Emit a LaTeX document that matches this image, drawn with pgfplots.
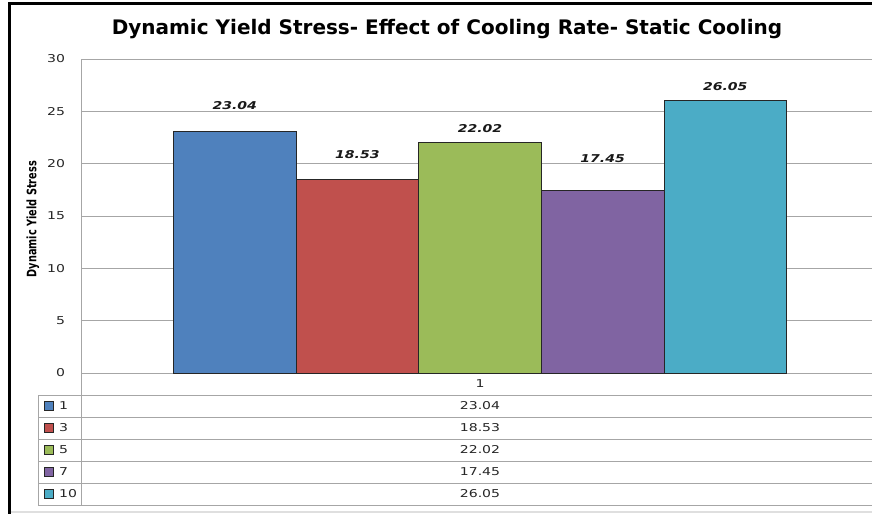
\documentclass[border=0pt]{standalone}
\usepackage{pgfplots}
\pgfplotsset{compat=1.18}
\usepackage{fontspec}
\setmainfont{DejaVu Sans}
\newfontfamily\widefont{DejaVu Sans}[FakeStretch=1.3]
\newfontfamily\narrowfont{DejaVu Sans}[FakeStretch=0.75]

\definecolor{rateA}{HTML}{4F81BD}
\definecolor{rateB}{HTML}{C0504D}
\definecolor{rateC}{HTML}{9BBB59}
\definecolor{rateD}{HTML}{8064A2}
\definecolor{rateE}{HTML}{4BACC6}
\definecolor{gridgray}{RGB}{166,166,166}

\newcommand{\smallwide}{\widefont\fontsize{10.8}{12}\selectfont}

\begin{document}
\begin{tikzpicture}[x=1pt,y=1pt]
\fill[white] (0,0) rectangle (872,-514);

\begin{axis}[
  at={(81pt,-373pt)}, anchor=south west,
  scale only axis, width=798pt, height=314pt,
  ybar=0pt, bar width=122.6pt,
  xmin=0.5, xmax=1.5, ymin=0, ymax=30,
  ytick={0,5,...,30}, xtick={1}, xticklabels={1},
  ymajorgrids, grid style={draw=gridgray, line width=0.8pt},
  axis x line*=bottom, axis y line*=left,
  axis line style={draw=gridgray, line width=0.8pt, -},
  major tick length=0pt,
  /pgf/number format/assume math mode=true,
  yticklabel style={font=\smallwide, text=black!85, anchor=east, xshift=-12.5pt},
  xticklabel style={font=\smallwide, text=black!85, anchor=center, yshift=-11pt},
  ylabel={Dynamic Yield Stress},
  ylabel style={font=\narrowfont\bfseries\fontsize{13}{15}\selectfont, at={(axis description cs:-0.0602,0.49)}, anchor=center},
  title={Dynamic Yield Stress- Effect of Cooling Rate- Static Cooling},
  title style={font=\bfseries\fontsize{20}{23}\selectfont, at={(axis description cs:0.4586,1.0764)}, anchor=center},
  clip=false,
  nodes near coords={\pgfmathprintnumber[fixed,fixed zerofill,precision=2,assume math mode=true]{\pgfplotspointmeta}},
  nodes near coords style={font=\smallwide\bfseries\itshape, text=black!90},
  every axis plot/.append style={draw=black!85, line width=0.8pt},
]
\addplot[fill=rateA, every node near coord/.append style={anchor=center, yshift=26.3pt}] coordinates {(1,23.04)};
\addplot[fill=rateB, every node near coord/.append style={anchor=center, yshift=24.5pt}] coordinates {(1,18.53)};
\addplot[fill=rateC, every node near coord/.append style={anchor=center, yshift=14.2pt}] coordinates {(1,22.02)};
\addplot[fill=rateD, every node near coord/.append style={anchor=center, yshift=32pt}] coordinates {(1,17.45)};
\addplot[fill=rateE, every node near coord/.append style={anchor=center, yshift=14.1pt}] coordinates {(1,26.05)};
\end{axis}

% data table under the plot
\begin{scope}[line width=0.8pt]
  \foreach \yy in {395,417,439,461,483,505} {
    \draw[gridgray] (38,-\yy) -- (880,-\yy);
  }
  \draw[gridgray] (38,-395) -- (38,-505);
  \draw[gridgray] (81,-373) -- (81,-505);
\end{scope}
\foreach \yy/\lab/\val/\col in {406/1/23.04/rateA, 428/3/18.53/rateB, 450/5/22.02/rateC, 472/7/17.45/rateD, 494/10/26.05/rateE} {
  \filldraw[fill=\col, draw=black!85, line width=0.8pt] (44.5,-\yy+4.5) rectangle (53.5,-\yy-4.5);
  \node[anchor=west, inner sep=0pt, font=\smallwide, text=black!85] at (59,-\yy) {\lab};
  \node[inner sep=0pt, font=\smallwide, text=black!85] at (480,-\yy) {\val};
}

% chart frame
\draw[gray!25, line width=2pt] (8,-512) -- (872,-512);
\draw[black, line width=3pt] (9.5,-2) -- (9.5,-514);
\draw[black, line width=3pt] (8,-3.5) -- (872,-3.5);

\pgfresetboundingbox
\path[use as bounding box] (0,0) rectangle (872,-514);
\end{tikzpicture}
\end{document}
